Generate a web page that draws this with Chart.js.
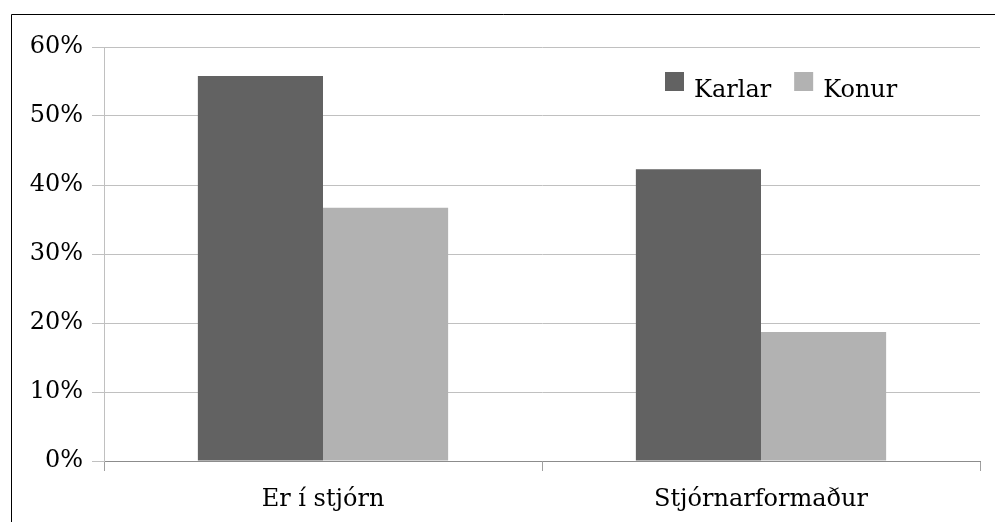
<!DOCTYPE html>
<html>
<head>
<meta charset="utf-8">
<script src="https://cdn.jsdelivr.net/npm/chart.js@4/dist/chart.umd.min.js"></script>
<style>
  html, body { margin: 0; padding: 0; background: #fff; }
  #c { display: block; }
</style>
</head>
<body>
<canvas id="c" width="995" height="522"></canvas>
<script>
// Share of men and women on boards and as board chairs (%)
const categories = ['Er í stjórn', 'Stjórnarformaður'];
const seriesNames = ['Karlar', 'Konur'];
const karlar = [55.8, 42.3];
const konur = [36.7, 18.7];
const yTickValues = [0, 10, 20, 30, 40, 50, 60];
const seriesColors = ['#626262', '#b2b2b2'];

const FONT_FAMILY = "'DejaVu Serif', 'Liberation Serif', serif";
const FONT_SIZE = 24;

// Thin black frame along the top and left edges
const framePlugin = {
  id: 'frame',
  beforeDraw(chart) {
    const ctx = chart.ctx;
    ctx.save();
    ctx.fillStyle = '#fff';
    ctx.fillRect(0, 0, chart.width, chart.height);
    ctx.strokeStyle = '#000';
    ctx.lineWidth = 1;
    ctx.beginPath();
    ctx.moveTo(11.5, chart.height);
    ctx.lineTo(11.5, 14.5);
    ctx.lineTo(chart.width, 14.5);
    ctx.stroke();
    ctx.restore();
  }
};

// Legend drawn inside the plot, upper right
const insideLegend = {
  id: 'insideLegend',
  afterDraw(chart) {
    const ctx = chart.ctx;
    ctx.save();
    ctx.font = FONT_SIZE + 'px ' + FONT_FAMILY;
    ctx.textBaseline = 'alphabetic';
    ctx.fillStyle = '#000';
    let x = 665;
    const boxTop = 72, box = 19, baseline = 97;
    chart.data.datasets.forEach((ds) => {
      ctx.fillStyle = ds.backgroundColor;
      ctx.fillRect(x, boxTop, box, box);
      ctx.fillStyle = '#000';
      const tx = x + box + 10;
      ctx.fillText(ds.label, tx, baseline);
      x = tx + ctx.measureText(ds.label).width + 23;
    });
    ctx.restore();
  }
};

new Chart(document.getElementById('c'), {
  type: 'bar',
  data: {
    labels: categories,
    datasets: [
      { label: seriesNames[0], data: karlar, backgroundColor: seriesColors[0] },
      { label: seriesNames[1], data: konur, backgroundColor: seriesColors[1] }
    ]
  },
  options: {
    responsive: false,
    animation: false,
    devicePixelRatio: 1,
    layout: { padding: { left: 0, right: 15, top: 47, bottom: 0 } },
    datasets: { bar: { categoryPercentage: 0.5714, barPercentage: 1, borderWidth: 0 } },
    plugins: {
      legend: { display: false },
      tooltip: { enabled: false }
    },
    scales: {
      x: {
        grid: {
          offset: true,
          drawOnChartArea: false,
          drawTicks: true,
          tickLength: 10,
          color: '#a0a0a0'
        },
        border: { display: true, color: '#8c8c8c', width: 1 },
        ticks: {
          color: '#000',
          padding: 14,
          font: { family: FONT_FAMILY, size: FONT_SIZE }
        },
        afterFit(scale) { scale.height = 61; }
      },
      y: {
        min: 0,
        max: 60,
        afterBuildTicks(scale) {
          scale.ticks = yTickValues.map(v => ({ value: v }));
        },
        grid: {
          color: '#c0c0c0',
          lineWidth: 1,
          tickLength: 12
        },
        border: { display: true, color: '#c0c0c0', width: 1 },
        ticks: {
          color: '#000',
          padding: 9,
          font: { family: FONT_FAMILY, size: FONT_SIZE },
          callback: v => v + '%'
        },
        afterFit(scale) { scale.width = 104; }
      }
    }
  },
  plugins: [framePlugin, insideLegend]
});
</script>
</body>
</html>
